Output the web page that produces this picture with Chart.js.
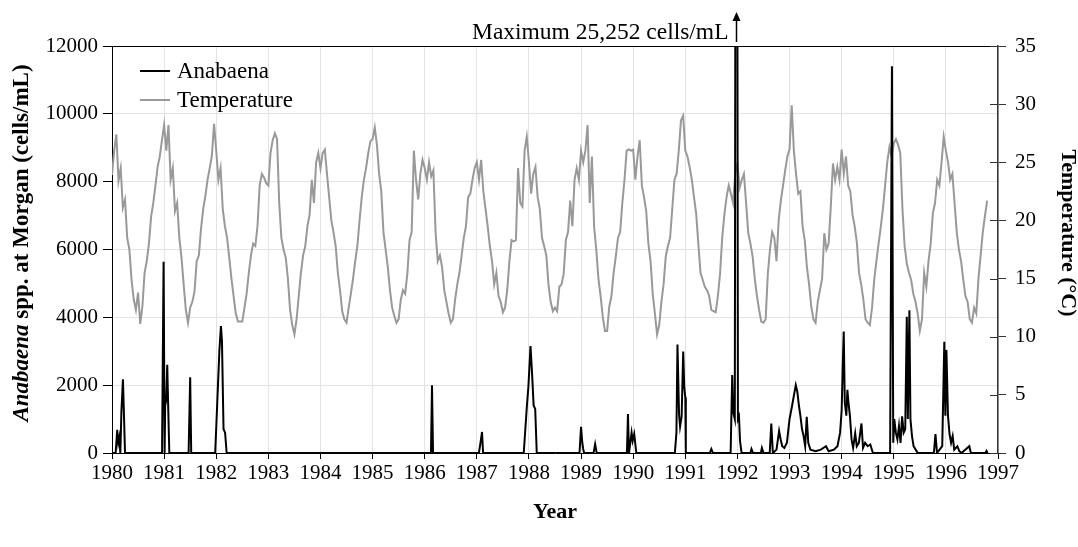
<!DOCTYPE html>
<html>
<head>
<meta charset="utf-8">
<script src="https://cdn.jsdelivr.net/npm/chart.js@4.4.1/dist/chart.umd.min.js"></script>
<style>
  html, body { margin: 0; padding: 0; background: #fff; }
</style>
</head>
<body>
<canvas id="anabaena" width="1078" height="547"></canvas>
<script>
// temperature, sampled twice a month from Jan 1980
var tempStart = 1980;
var samplesPerYear = 24;
var tempValues = [
    23.9, 26.0, 27.4, 23.4, 24.5, 21.1, 21.8, 18.5, 17.5, 14.9, 13.2, 12.3, 13.8, 11.1, 12.6, 15.5, 16.5, 18.0, 20.3, 21.5, 23.0, 24.6, 25.5, 26.9,
    28.2, 26.0, 28.2, 23.5, 24.5, 20.8, 21.5, 18.5, 16.8, 14.5, 12.3, 11.2, 12.5, 13.0, 13.9, 16.5, 17.0, 19.3, 21.0, 22.1, 23.5, 24.5, 25.6, 28.3,
    26.0, 23.5, 24.5, 21.0, 19.5, 18.5, 16.8, 15.0, 13.5, 12.0, 11.3, 11.3, 11.3, 12.5, 13.7, 15.5, 17.0, 18.0, 17.8, 19.5, 23.0, 24.0, 23.7, 23.2,
    23.0, 25.8, 26.9, 27.5, 27.0, 21.5, 18.5, 17.5, 16.8, 15.0, 12.3, 11.0, 10.2, 11.5, 13.5, 15.5, 17.0, 17.8, 19.5, 20.5, 23.5, 21.5, 25.0, 25.8,
    24.5, 25.8, 26.1, 24.0, 22.0, 20.0, 19.0, 17.8, 15.5, 14.0, 12.2, 11.5, 11.2, 12.5, 13.7, 15.0, 16.5, 17.8, 20.0, 22.0, 23.5, 24.5, 25.8, 26.8,
    27.0, 28.0, 26.5, 24.0, 22.5, 19.0, 17.5, 16.0, 14.0, 12.5, 11.8, 11.2, 11.5, 13.2, 14.0, 13.7, 15.4, 18.3, 19.0, 26.0, 23.5, 21.8, 24.0, 25.2,
    24.5, 23.5, 25.0, 23.8, 24.3, 19.0, 16.5, 17.0, 16.0, 14.0, 13.0, 12.0, 11.2, 11.5, 13.2, 14.5, 15.5, 17.0, 18.5, 19.5, 22.0, 22.3, 23.5, 24.5,
    25.0, 23.5, 25.2, 22.5, 21.0, 19.5, 17.8, 16.5, 14.5, 15.5, 13.5, 13.0, 12.1, 12.5, 14.0, 16.5, 18.3, 18.2, 18.3, 24.5, 21.5, 21.2, 26.0, 27.2,
    25.0, 22.3, 24.0, 24.6, 22.0, 21.0, 18.5, 17.8, 17.0, 14.5, 13.0, 12.2, 12.5, 12.2, 14.3, 14.5, 15.4, 18.3, 19.0, 21.7, 19.5, 23.5, 24.5, 23.5,
    26.0, 25.0, 26.0, 28.2, 21.5, 25.5, 19.5, 17.5, 15.0, 13.5, 11.7, 10.5, 10.5, 12.6, 13.5, 15.5, 16.9, 18.5, 19.0, 21.5, 23.5, 26.0, 26.1, 26.0,
    26.1, 23.5, 25.5, 26.9, 23.0, 22.0, 20.8, 18.0, 16.5, 13.7, 12.0, 10.2, 11.0, 13.0, 14.5, 16.9, 17.8, 18.5, 21.0, 23.5, 24.0, 26.0, 28.6, 29.0,
    26.0, 25.5, 24.6, 23.5, 22.0, 20.6, 18.0, 15.5, 14.9, 14.3, 14.0, 13.5, 12.3, 12.2, 12.1, 13.5, 15.4, 18.5, 20.5, 22.0, 23.0, 22.3, 21.5, 24.0,
    24.9, 22.8, 23.5, 24.0, 21.5, 18.9, 18.0, 16.9, 15.0, 13.5, 12.3, 11.3, 11.2, 11.5, 15.4, 17.5, 19.0, 18.5, 16.5, 20.0, 21.7, 23.0, 24.3, 25.5,
    26.1, 29.9, 26.0, 24.0, 22.3, 22.5, 19.5, 18.3, 16.0, 14.5, 12.6, 11.5, 11.2, 13.0, 14.0, 15.0, 18.9, 17.5, 18.0, 21.2, 24.9, 23.5, 24.6, 23.5,
    26.1, 24.0, 25.5, 23.0, 22.5, 20.5, 19.5, 18.1, 15.5, 14.5, 13.2, 11.5, 11.2, 11.0, 12.5, 14.9, 16.5, 18.0, 19.4, 21.0, 23.0, 25.0, 26.3, 25.5,
    26.6, 27.0, 26.5, 25.8, 21.0, 17.8, 16.3, 15.5, 14.9, 13.7, 13.0, 12.0, 10.5, 11.5, 15.5, 14.3, 16.5, 18.0, 20.6, 21.5, 23.5, 23.0, 25.0, 27.2,
    26.0, 25.0, 23.5, 24.0, 21.5, 19.0, 17.5, 16.5, 14.9, 13.5, 13.0, 11.5, 11.2, 12.5, 12.0, 15.0, 17.0, 19.0, 20.4, 21.7
];

// Anabaena counts (cells/mL), sample dates as decimal years
var anaTimes = [
    1980.00, 1980.07, 1980.09, 1980.10, 1980.12, 1980.14, 1980.16, 1980.18, 1980.21, 1980.23, 1980.25,
    1980.96, 1980.99, 1981.01, 1981.02, 1981.04, 1981.06, 1981.08, 1981.10,
    1981.47, 1981.50, 1981.52,
    1981.98, 1982.02, 1982.06, 1982.09, 1982.11, 1982.14, 1982.17, 1982.20,
    1986.12, 1986.14, 1986.16,
    1987.04, 1987.07, 1987.10, 1987.12,
    1987.90, 1987.96, 1987.99, 1988.03, 1988.06, 1988.09, 1988.12, 1988.15,
    1988.97, 1989.00, 1989.02, 1989.04, 1989.06,
    1989.24, 1989.27, 1989.30,
    1989.88, 1989.90, 1989.92, 1989.97, 1989.99, 1990.02, 1990.06,
    1990.80, 1990.83, 1990.85, 1990.88, 1990.90, 1990.93, 1990.96, 1990.98, 1991.00, 1991.01,
    1991.47, 1991.50, 1991.53,
    1991.87, 1991.90, 1991.92, 1991.95, 1991.97, 1991.99, 1992.01, 1992.03, 1992.05, 1992.08,
    1992.25, 1992.27, 1992.30, 1992.45, 1992.47, 1992.50, 1992.62, 1992.65, 1992.68, 1992.75, 1992.80, 1992.83, 1992.86, 1992.90, 1992.95,
    1993.00, 1993.05, 1993.09, 1993.12, 1993.15, 1993.18, 1993.21, 1993.24, 1993.27, 1993.30, 1993.33, 1993.36, 1993.40, 1993.50, 1993.60, 1993.70, 1993.75, 1993.85, 1993.92,
    1993.97, 1994.00, 1994.02, 1994.04, 1994.06, 1994.09, 1994.11, 1994.13, 1994.16, 1994.19, 1994.22, 1994.26, 1994.29, 1994.33, 1994.38, 1994.41, 1994.45, 1994.50, 1994.55, 1994.60,
    1994.93, 1994.965, 1994.99, 1995.01, 1995.04, 1995.07, 1995.10, 1995.13, 1995.16, 1995.19, 1995.22, 1995.25, 1995.27, 1995.30, 1995.32, 1995.35, 1995.38, 1995.42, 1995.46,
    1995.77, 1995.80, 1995.83, 1995.93, 1995.97, 1995.99, 1996.01, 1996.04, 1996.07, 1996.10, 1996.13, 1996.16, 1996.22, 1996.26, 1996.30, 1996.45, 1996.48, 1996.51, 1996.76, 1996.78, 1996.80
];
var anaValues = [
    0, 0, 450, 680, 300, 460, 0, 1200, 2170, 1100, 0,
    0, 5640, 0, 1400, 1550, 2600, 1250, 0,
    0, 2230, 0,
    0, 1500, 3000, 3740, 3300, 700, 600, 0,
    0, 2000, 0,
    0, 300, 620, 0,
    0, 1370, 1960, 3150, 2340, 1400, 1300, 0,
    0, 770, 360, 120, 0,
    0, 260, 0,
    0, 1150, 0, 600, 360, 560, 0,
    0, 600, 3200, 1150, 780, 1080, 2990, 1940, 1640, 0,
    0, 120, 0,
    0, 2300, 1200, 1000, 25252, 25252, 1000, 1080, 360, 0,
    0, 120, 0, 0, 150, 0, 0, 870, 0, 100, 650, 400, 200, 150, 300,
    1000, 1400, 1750, 2000, 1800, 1400, 1080, 700, 500, 200, 1070, 300, 100, 50, 100, 200, 50, 100, 200,
    600, 1250, 2500, 3580, 1500, 1100, 1860, 1500, 1070, 400, 150, 580, 200, 300, 870, 150, 300, 200, 250, 0,
    0, 11400, 300, 1000, 600, 400, 800, 300, 1080, 600, 700, 4020, 1000, 4210, 1000, 500, 200, 100, 0,
    0, 560, 0, 200, 3280, 1100, 3040, 1100, 560, 300, 500, 100, 200, 50, 0, 200, 0, 0, 0, 60, 0
];

var maxLabel = 'Maximum 25,252 cells/mL';
var maxTime = 1991.98;

var tempPoints = [];
for (var i = 0; i < tempValues.length; i++) {
    tempPoints.push({ x: tempStart + i / samplesPerYear, y: tempValues[i] });
}
var anaPoints = [];
for (var j = 0; j < anaTimes.length; j++) {
    anaPoints.push({ x: anaTimes[j], y: anaValues[j] });
}

var serif = "'Liberation Serif', 'Times New Roman', serif";

// frame, legend inside the plot, the two side titles and the maximum note
var extras = {
    id: 'extras',
    afterDraw: function (chart) {
        var ctx = chart.ctx;
        var area = chart.chartArea;
        var y1 = chart.scales.y1;
        ctx.save();

        // top edge of the frame
        ctx.strokeStyle = '#000';
        ctx.lineWidth = 1;
        ctx.beginPath();
        ctx.moveTo(area.left, area.top + 0.5);
        ctx.lineTo(area.right, area.top + 0.5);
        ctx.stroke();

        // right axis ticks also poke into the plot
        ctx.strokeStyle = '#333';
        y1.ticks.forEach(function (t) {
            var py = Math.round(y1.getPixelForValue(t.value)) + 0.5;
            ctx.beginPath();
            ctx.moveTo(area.right - 8, py);
            ctx.lineTo(area.right, py);
            ctx.stroke();
        });

        // legend
        ctx.font = '23px ' + serif;
        ctx.textBaseline = 'middle';
        ctx.textAlign = 'left';
        ctx.fillStyle = '#000';
        ctx.lineWidth = 2;
        ctx.strokeStyle = '#000';
        ctx.beginPath(); ctx.moveTo(140, 71); ctx.lineTo(170, 71); ctx.stroke();
        ctx.fillText('Anabaena', 177, 72);
        ctx.strokeStyle = '#999';
        ctx.beginPath(); ctx.moveTo(140, 100); ctx.lineTo(170, 100); ctx.stroke();
        ctx.fillText('Temperature', 177, 101);

        // left title, genus name in italics
        ctx.save();
        ctx.translate(22, 243);
        ctx.rotate(-Math.PI / 2);
        var part1 = 'Anabaena';
        var part2 = ' spp. at Morgan (cells/mL)';
        ctx.font = 'italic bold 23px ' + serif;
        var w1 = ctx.measureText(part1).width;
        ctx.font = 'bold 23px ' + serif;
        var w2 = ctx.measureText(part2).width;
        var start = -(w1 + w2) / 2;
        ctx.font = 'italic bold 23px ' + serif;
        ctx.fillText(part1, start, 0);
        ctx.font = 'bold 23px ' + serif;
        ctx.fillText(part2, start + w1, 0);
        ctx.restore();

        // right title
        ctx.save();
        ctx.translate(1068, 233);
        ctx.rotate(Math.PI / 2);
        ctx.textAlign = 'center';
        ctx.font = 'bold 22px ' + serif;
        ctx.fillText('Temperature (\u00B0C)', 0, 0);
        ctx.restore();

        // note about the clipped peak
        var px = Math.round(chart.scales.x.getPixelForValue(maxTime)) + 0.5;
        ctx.font = '23.5px ' + serif;
        ctx.textAlign = 'right';
        ctx.fillStyle = '#000';
        ctx.fillText(maxLabel, px - 8, 33);
        ctx.strokeStyle = '#000';
        ctx.lineWidth = 1.5;
        ctx.beginPath();
        ctx.moveTo(px, 42);
        ctx.lineTo(px, 14);
        ctx.stroke();
        ctx.beginPath();
        ctx.moveTo(px - 4, 21);
        ctx.lineTo(px, 12);
        ctx.lineTo(px + 4, 21);
        ctx.closePath();
        ctx.fill();

        ctx.restore();
    }
};

var chart1 = document.getElementById('anabaena');
var myChart1 = new Chart(chart1, {
    type: 'line',
    data: {
        datasets: [{
            label: 'Anabaena',
            data: anaPoints,
            yAxisID: 'y',
            borderColor: '#000',
            borderWidth: 2,
            pointRadius: 0,
            tension: 0,
            fill: false
        }, {
            label: 'Temperature',
            data: tempPoints,
            yAxisID: 'y1',
            borderColor: '#999',
            borderWidth: 2,
            pointRadius: 0,
            tension: 0,
            fill: false
        }]
    },
    options: {
        responsive: false,
        animation: false,
        devicePixelRatio: 1,
        layout: { padding: { top: 46, left: 0, right: 0, bottom: 0 } },
        plugins: {
            legend: { display: false },
            tooltip: { enabled: false }
        },
        scales: {
            x: {
                type: 'linear',
                min: 1980,
                max: 1997,
                afterFit: function (s) { s.height = 94; },
                ticks: {
                    stepSize: 1,
                    autoSkip: false,
                    maxRotation: 0,
                    padding: 2,
                    color: '#000',
                    font: { family: serif, size: 21 },
                    callback: function (v) { return String(v); }
                },
                grid: { color: '#e3e3e3', tickColor: '#000', tickLength: 6 },
                border: { color: '#000', width: 1 },
                title: {
                    display: true,
                    text: 'Year',
                    color: '#000',
                    font: { family: serif, size: 22, weight: 'bold' },
                    padding: { top: 0, bottom: 21 }
                }
            },
            y: {
                position: 'left',
                min: 0,
                max: 12000,
                afterFit: function (s) { s.width = 112; },
                ticks: {
                    stepSize: 2000,
                    padding: 5,
                    color: '#000',
                    font: { family: serif, size: 21 },
                    callback: function (v) { return String(v); }
                },
                grid: { color: '#e3e3e3', tickColor: '#000', tickLength: 9 },
                border: { color: '#000', width: 1 }
            },
            y1: {
                position: 'right',
                min: 0,
                max: 35,
                afterFit: function (s) { s.width = 80; },
                ticks: {
                    stepSize: 5,
                    padding: 9,
                    color: '#000',
                    font: { family: serif, size: 21 }
                },
                grid: { drawOnChartArea: false, tickColor: '#333', tickLength: 8 },
                border: { color: '#333', width: 1.5 }
            }
        }
    },
    plugins: [extras]
});
</script>
</body>
</html>
